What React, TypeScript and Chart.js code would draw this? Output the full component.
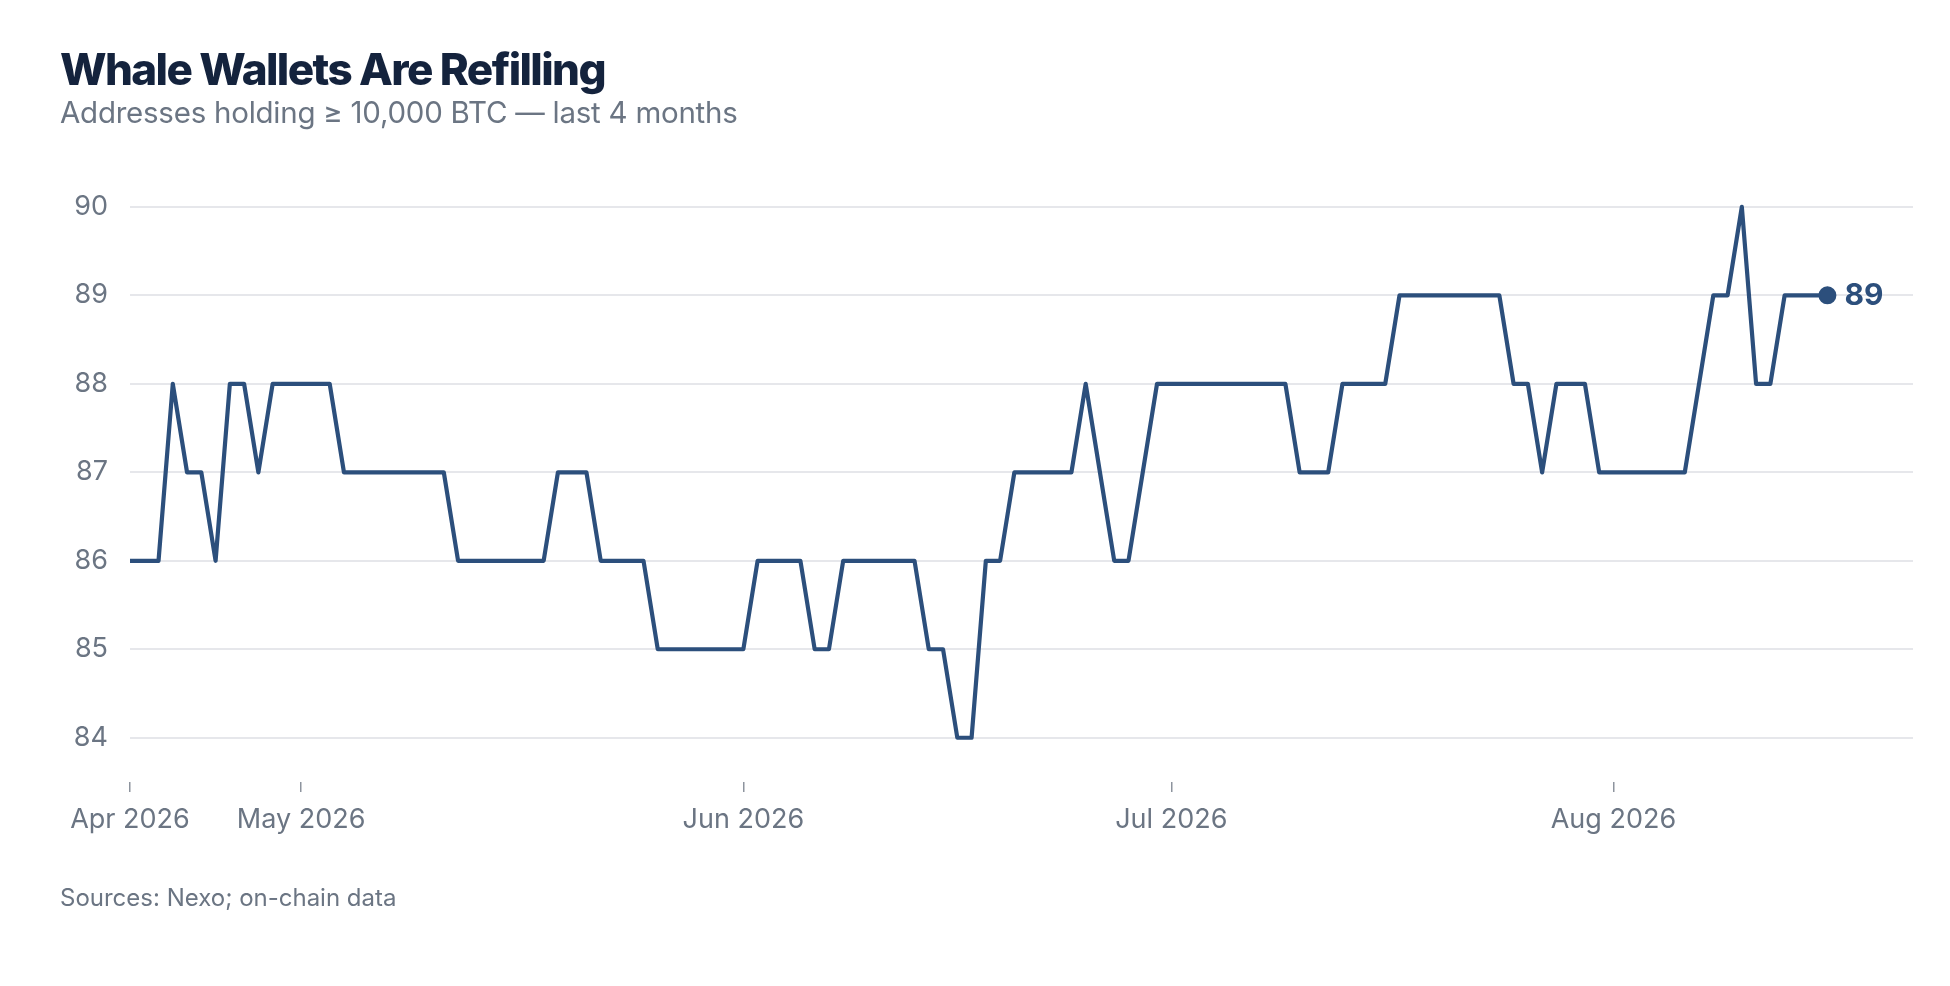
import React, { useEffect, useRef } from "react";
import { Chart, registerables, Plugin } from "chart.js";

Chart.register(...registerables);

// daily count of addresses holding >= 10,000 BTC, starting at startDate
const startDate = "2026-04-19";
const whaleAddresses = [
  86, 86, 86, 88, 87, 87, 86, 88, 88, 87,
  88, 88, 88, 88, 88, 87, 87, 87, 87, 87,
  87, 87, 87, 86, 86, 86, 86, 86, 86, 86,
  87, 87, 87, 86, 86, 86, 86, 85, 85, 85,
  85, 85, 85, 85, 86, 86, 86, 86, 85, 85,
  86, 86, 86, 86, 86, 86, 85, 85, 84, 84,
  86, 86, 87, 87, 87, 87, 87, 88, 87, 86,
  86, 87, 88, 88, 88, 88, 88, 88, 88, 88,
  88, 88, 87, 87, 87, 88, 88, 88, 88, 89,
  89, 89, 89, 89, 89, 89, 89, 88, 88, 87,
  88, 88, 88, 87, 87, 87, 87, 87, 87, 87,
  88, 89, 89, 90, 88, 88, 89, 89, 89, 89,
];

const monthTickDates = ["2026-04-19", "2026-05-01", "2026-06-01", "2026-07-01", "2026-08-01"];
const monthTickLabels = ["Apr 2026", "May 2026", "Jun 2026", "Jul 2026", "Aug 2026"];
const yTickValues = [84, 85, 86, 87, 88, 89, 90];

const LINE = "#2c4f7c";
const MUTED = "#6b7583";
const FONT = "Inter, 'Noto Sans', sans-serif";

const dayOffset = (iso: string) =>
  Math.round((Date.parse(iso) - Date.parse(startDate)) / 86400000);

const tickDays = monthTickDates.map(dayOffset);

const endLabel: Plugin<"line"> = {
  id: "endLabel",
  afterDatasetsDraw(chart) {
    const meta = chart.getDatasetMeta(0);
    const pt = meta.data[meta.data.length - 1];
    if (!pt) return;
    const ctx = chart.ctx;
    ctx.save();
    ctx.font = `700 30px ${FONT}`;
    ctx.fillStyle = LINE;
    ctx.textBaseline = "middle";
    ctx.fillText(String(whaleAddresses[whaleAddresses.length - 1]), pt.x + 17, pt.y + 1);
    ctx.restore();
  },
};

const App: React.FC = () => {
  const canvasRef = useRef<HTMLCanvasElement | null>(null);
  const chartRef = useRef<Chart | null>(null);

  useEffect(() => {
    document.body.style.margin = "0";
    const ctx = canvasRef.current?.getContext("2d");
    if (!ctx) return;
    if (chartRef.current) chartRef.current.destroy();

    const last = whaleAddresses.length - 1;

    chartRef.current = new Chart(ctx, {
      type: "line",
      data: {
        datasets: [
          {
            data: whaleAddresses.map((v, i) => ({ x: i, y: v })),
            borderColor: LINE,
            backgroundColor: LINE,
            borderWidth: 4.2,
            tension: 0,
            borderJoinStyle: "round",
            borderCapStyle: "round",
            pointRadius: (c) => (c.dataIndex === last ? 8 : 0),
            pointBorderWidth: 2,
            pointBorderColor: LINE,
            pointBackgroundColor: LINE,
            pointHoverRadius: 0,
          },
        ],
      },
      options: {
        animation: false,
        responsive: true,
        maintainAspectRatio: false,
        layout: { padding: { top: 198, right: 37, bottom: 0, left: 0 } },
        plugins: {
          legend: { display: false },
          tooltip: { enabled: false },
        },
        scales: {
          x: {
            type: "linear",
            min: 0,
            max: 125,
            border: { display: false },
            grid: {
              drawOnChartArea: false,
              drawTicks: true,
              tickLength: 10,
              color: "#8d949e",
              lineWidth: 1.5,
            },
            afterBuildTicks: (scale) => {
              scale.ticks = tickDays.map((d) => ({ value: d }));
            },
            afterFit: (scale) => {
              scale.height = 204;
            },
            ticks: {
              autoSkip: false,
              maxRotation: 0,
              padding: 12,
              color: MUTED,
              font: { family: FONT, size: 27 },
              callback: (value) => {
                const idx = tickDays.indexOf(Number(value));
                return idx >= 0 ? monthTickLabels[idx] : "";
              },
            },
          },
          y: {
            min: 83.5,
            max: 90.1,
            border: { display: false },
            grid: {
              drawTicks: false,
              color: "#e6e7eb",
              lineWidth: 2,
            },
            afterBuildTicks: (scale) => {
              scale.ticks = yTickValues.map((v) => ({ value: v }));
            },
            afterFit: (scale) => {
              scale.width = 130;
            },
            ticks: {
              padding: 22,
              color: MUTED,
              font: { family: FONT, size: 27 },
            },
          },
        },
      },
      plugins: [endLabel],
    });

    return () => {
      if (chartRef.current) chartRef.current.destroy();
      chartRef.current = null;
    };
  }, []);

  return (
    <div style={{ position: "relative", width: 1950, height: 986, background: "#fff", overflow: "hidden", fontFamily: FONT }}>
      <div style={{ position: "absolute", inset: 0 }}>
        <canvas ref={canvasRef}></canvas>
      </div>
      {/* titles */}
      <div style={{ position: "absolute", left: 60, top: 47, fontSize: 44, fontWeight: 800, lineHeight: 1, color: "#14233d", letterSpacing: -1.6 }}>
        Whale Wallets Are Refilling
      </div>
      <div style={{ position: "absolute", left: 60, top: 98, fontSize: 29.5, fontWeight: 400, lineHeight: 1, color: MUTED, letterSpacing: -0.25 }}>
        Addresses holding ≥ 10,000 BTC — last 4 months
      </div>
      <div style={{ position: "absolute", left: 60, top: 886, fontSize: 24, fontWeight: 400, lineHeight: 1, color: MUTED }}>
        Sources: Nexo; on-chain data
      </div>
    </div>
  );
};

export default App;
